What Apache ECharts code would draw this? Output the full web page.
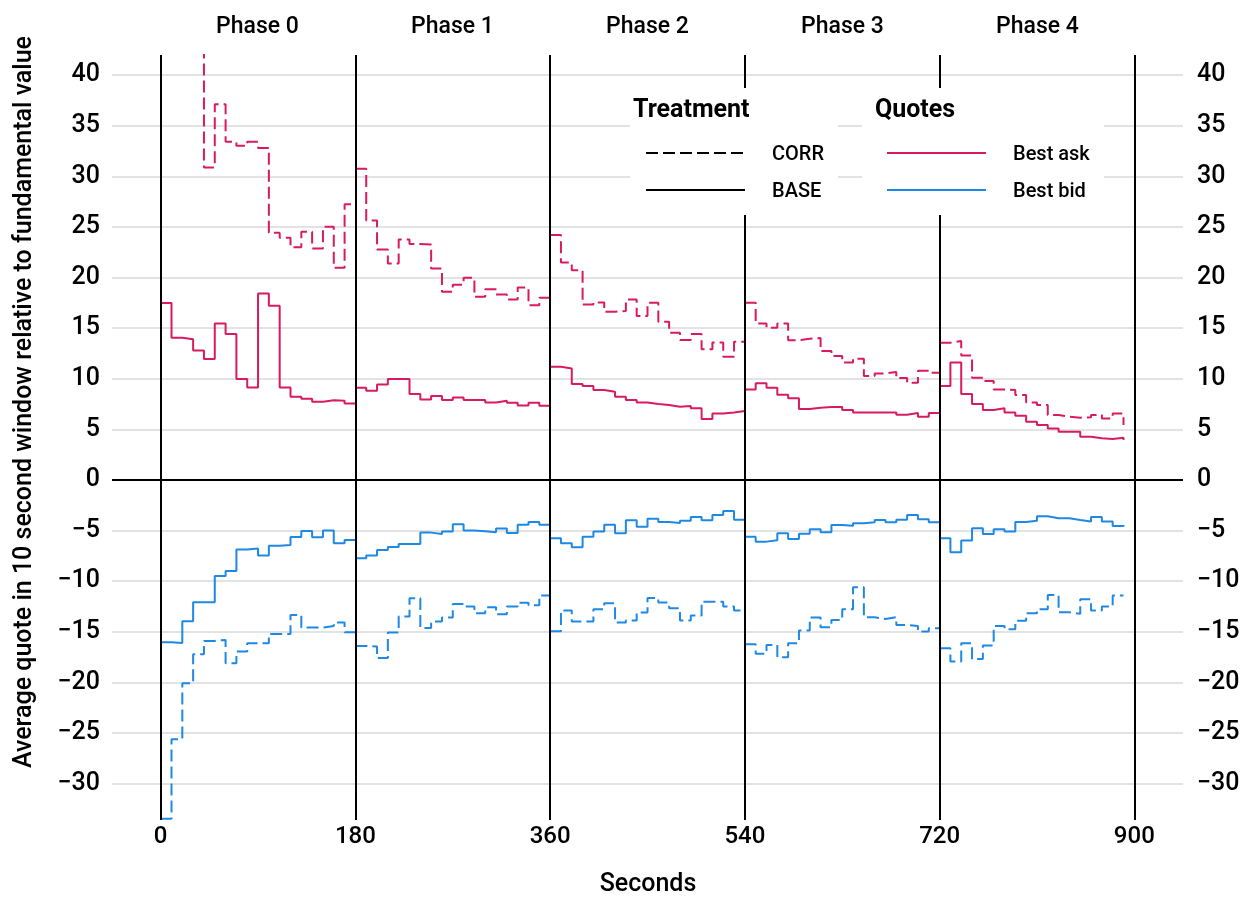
<!DOCTYPE html>
<html><head><meta charset="utf-8">
<script src="https://cdn.jsdelivr.net/npm/echarts@6/dist/echarts.min.js"></script>
<style>html,body{margin:0;padding:0;background:#fff}#c{width:1248px;height:900px}</style>
</head><body><div id="c"></div>
<script>
const phaseLabels = ['Phase 0', 'Phase 1', 'Phase 2', 'Phase 3', 'Phase 4'];
const phaseStarts = [0, 180, 360, 540, 720];
const xTicks = [0, 180, 360, 540, 720, 900];
const yTicks = [-30, -25, -20, -15, -10, -5, 0, 5, 10, 15, 20, 25, 30, 35, 40];

// Best ask, BASE treatment (10 s windows per phase)
const baseAsk = [
  [17.5, 14.06, 13.9, 12.8, 11.95, 15.47, 14.42, 9.98, 9.15, 18.44, 17.22, 9.15, 8.23, 8.03, 7.74, 7.87, 7.84, 7.57],
  [9.12, 8.82, 9.45, 9.97, 9.97, 8.49, 7.96, 8.29, 7.9, 8.16, 7.9, 7.9, 7.67, 7.83, 7.63, 7.37, 7.63, 7.34],
  [11.19, 11.03, 9.48, 9.28, 8.89, 8.72, 8.23, 7.9, 7.67, 7.51, 7.41, 7.24, 7.31, 7.08, 6.03, 6.58, 6.68, 6.81],
  [8.95, 9.55, 9.12, 8.43, 8.07, 7.01, 7.14, 7.21, 7.21, 6.91, 6.68, 6.68, 6.68, 6.68, 6.45, 6.62, 6.25, 6.62],
  [9.28, 11.62, 8.5, 7.51, 6.91, 7.08, 6.68, 6.35, 5.76, 5.43, 5.1, 4.77, 4.77, 4.28, 4.12, 4.05, 4.18, 3.95]
];
// Best ask, CORR treatment
const corrAsk = [
  [52, 50, 47, 45, 30.88, 37.14, 33.42, 33.02, 33.42, 32.82, 24.43, 23.93, 23.0, 24.53, 22.88, 25.02, 20.97, 27.26],
  [30.75, 25.64, 22.78, 21.39, 23.76, 23.33, 23.27, 20.9, 18.6, 19.29, 19.98, 18.1, 18.86, 18.33, 17.84, 19.02, 17.28, 18.0],
  [24.2, 21.5, 20.74, 17.35, 17.55, 16.63, 16.7, 17.84, 16.2, 17.51, 15.64, 14.56, 13.83, 14.42, 12.91, 13.6, 12.18, 13.66],
  [17.51, 15.47, 15.04, 15.47, 13.8, 13.96, 14.03, 12.74, 12.25, 11.62, 11.98, 10.27, 10.53, 10.67, 10.07, 9.61, 10.8, 10.6],
  [13.56, 13.73, 12.31, 10.11, 9.78, 8.95, 8.89, 8.4, 7.67, 7.41, 6.42, 6.25, 6.16, 6.19, 6.42, 6.09, 6.58, 5.43]
];
// Best bid, BASE treatment
const baseBid = [
  [-16.03, -16.1, -13.96, -12.08, -12.08, -9.48, -8.99, -6.88, -6.78, -7.47, -6.49, -6.42, -5.63, -5.04, -5.66, -5.0, -6.26, -5.93],
  [-7.74, -7.47, -6.91, -6.62, -6.32, -6.32, -5.2, -5.33, -5.1, -4.38, -5.0, -5.07, -5.17, -4.8, -5.23, -4.41, -4.15, -4.41],
  [-5.76, -6.25, -6.65, -5.6, -5.1, -4.41, -5.27, -3.98, -4.61, -3.82, -4.15, -4.25, -4.02, -3.65, -3.98, -3.46, -3.06, -3.92],
  [-5.6, -6.09, -5.96, -5.27, -5.83, -5.3, -4.87, -5.17, -4.44, -4.51, -4.28, -4.18, -3.95, -4.18, -3.92, -3.46, -3.88, -4.18],
  [-5.76, -7.14, -5.99, -4.77, -5.33, -4.87, -5.1, -4.15, -4.02, -3.59, -3.78, -3.78, -3.95, -4.11, -3.65, -4.11, -4.54, -4.45]
];
// Best bid, CORR treatment
const corrBid = [
  [-33.48, -25.61, -20.08, -17.22, -15.9, -15.8, -18.1, -16.95, -16.13, -16.13, -15.21, -15.21, -13.33, -14.58, -14.58, -14.42, -14.09, -15.05],
  [-16.4, -16.46, -17.6, -15.08, -13.5, -11.69, -14.62, -13.99, -13.6, -12.25, -12.51, -13.17, -12.58, -13.27, -12.51, -12.12, -12.38, -11.42],
  [-14.95, -12.9, -13.99, -13.99, -12.77, -12.18, -14.09, -13.89, -13.1, -11.65, -12.11, -12.67, -13.89, -13.4, -12.02, -12.02, -12.51, -12.9],
  [-16.23, -17.18, -16.3, -17.51, -16.13, -14.88, -13.6, -14.55, -13.83, -12.77, -10.6, -13.56, -13.73, -13.56, -14.32, -14.42, -14.98, -14.65],
  [-16.63, -17.94, -16.13, -17.7, -16.36, -14.42, -14.75, -13.92, -13.17, -12.77, -11.36, -13.07, -13.23, -11.78, -12.9, -12.51, -11.42, -11.42]
];

const RED = '#D81B60', BLUE = '#1E88E5';
const DASH = [12, 5];
const FONT = 'Roboto';

function phaseSeries(phases, color, dashed) {
  return phases.map((vals, p) => {
    const start = phaseStarts[p];
    const pts = vals.map((v, i) => [start + 10 * i, v]);
    if (p < 4) pts.push([start + 180, vals[vals.length - 1]]);
    return {
      type: 'line', step: 'end', data: pts, symbol: 'none', showSymbol: false,
      silent: true, animation: false, clip: true, z: 3,
      lineStyle: { color: color, width: 2, type: dashed ? DASH : 'solid' }
    };
  });
}

const series = [].concat(
  phaseSeries(corrAsk, RED, true),
  phaseSeries(baseAsk, RED, false),
  phaseSeries(corrBid, BLUE, true),
  phaseSeries(baseBid, BLUE, false)
);

series.push({
  type: 'line', data: [[0, 0]], symbol: 'none', silent: true, animation: false, z: 4,
  lineStyle: { opacity: 0 },
  markLine: {
    silent: true, animation: false, symbol: ['none', 'none'], label: { show: false },
    lineStyle: { color: '#000', width: 2, type: 'solid' },
    data: xTicks.map(v => ({ xAxis: v })).concat([{ yAxis: 0 }])
  }
});

const txt = (text, x, y, font, align, extra) => Object.assign({
  type: 'text', x: x, y: y, silent: true, z: 100,
  style: { text: text, font: font, fill: '#000', textAlign: align || 'center', textVerticalAlign: 'middle', align: align || 'center', verticalAlign: 'middle' }
}, extra || {});
const seg = (x1, x2, y, color, dash) => ({
  type: 'line', silent: true, z: 100,
  shape: { x1: x1, y1: y, x2: x2, y2: y },
  style: { stroke: color, lineWidth: 2, lineDash: dash || null }
});

const graphics = [
  { type: 'rect', z: 90, silent: true, shape: { x: 630, y: 88, width: 208, height: 127 }, style: { fill: '#fff' } },
  { type: 'rect', z: 90, silent: true, shape: { x: 862, y: 88, width: 242, height: 127 }, style: { fill: '#fff' } },
  txt('Treatment', 633, 111, 'bold 25px ' + FONT, 'left'),
  txt('Quotes', 875, 111, 'bold 25px ' + FONT, 'left'),
  seg(646, 745, 153, '#000', DASH),
  seg(646, 745, 190, '#000'),
  seg(887, 986, 153, RED),
  seg(887, 986, 190, BLUE),
  txt('CORR', 772, 155, '500 20px ' + FONT, 'left'),
  txt('BASE', 772, 192, '500 20px ' + FONT, 'left'),
  txt('Best ask', 1013, 155, '500 20px ' + FONT, 'left'),
  txt('Best bid', 1013, 192, '500 20px ' + FONT, 'left'),
  txt('Seconds', 648, 885, '500 25px ' + FONT, 'center'),
  txt('Average quote in 10 second window relative to fundamental value', 25, 402, '500 25px ' + FONT, 'center', { rotation: Math.PI / 2 })
];
phaseLabels.forEach((t, i) => {
  const xPx = 160 + (phaseStarts[i] + 90) * (975 / 900);
  graphics.push(txt(t, xPx, 27, '500 23px ' + FONT, 'center'));
});

const fmtMinus = v => String(v).replace('-', '\u2212');

const chart = echarts.init(document.getElementById('c'), null, { renderer: 'canvas' });
chart.setOption({
  animation: false,
  backgroundColor: '#fff',
  grid: { left: 112, right: 65, top: 55, bottom: 80, containLabel: false },
  xAxis: {
    type: 'value', min: -45, max: 945,
    axisLine: { show: false }, splitLine: { show: false },
    axisTick: { show: false, customValues: xTicks },
    axisLabel: { customValues: xTicks, fontSize: 24, fontFamily: FONT, fontWeight: 500, color: '#000', margin: 5 }
  },
  yAxis: [
    {
      type: 'value', min: -33.6, max: 42, position: 'left',
      axisLine: { show: false },
      axisTick: { show: false, customValues: yTicks },
      splitLine: { show: true, lineStyle: { color: '#e3e3e3', width: 2 } },
      axisLabel: { customValues: yTicks, formatter: fmtMinus, fontSize: 25, fontFamily: FONT, fontWeight: 500, color: '#000', margin: 12 }
    },
    {
      type: 'value', min: -33.6, max: 42, position: 'right',
      axisLine: { show: false },
      axisTick: { show: false, customValues: yTicks },
      splitLine: { show: false },
      axisLabel: { customValues: yTicks, formatter: fmtMinus, fontSize: 25, fontFamily: FONT, fontWeight: 500, color: '#000', margin: 14 }
    }
  ],
  series: series,
  graphic: graphics
});
</script>
</body></html>
